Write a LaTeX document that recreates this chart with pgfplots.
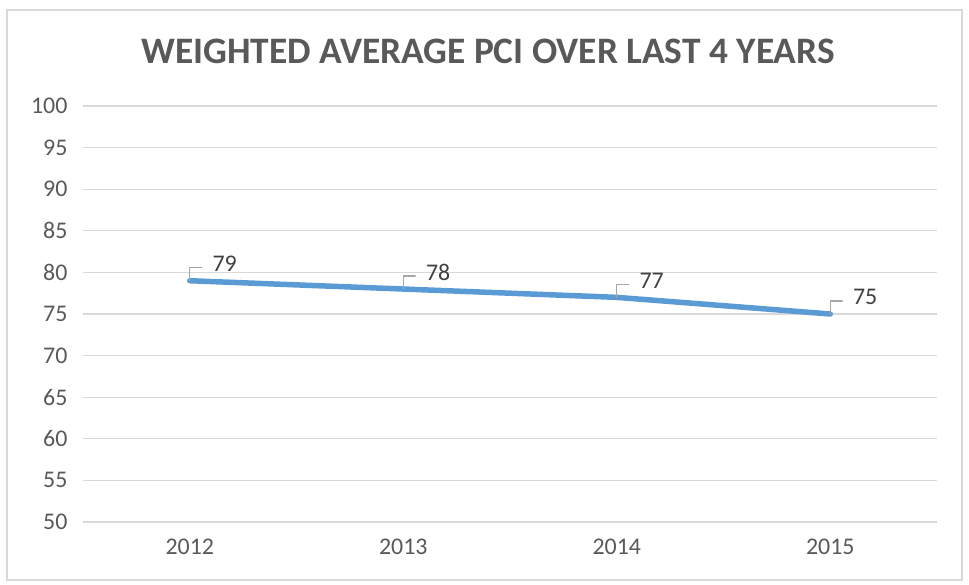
\documentclass[border=0pt]{standalone}
\usepackage{pgfplots}
\pgfplotsset{compat=1.18}
\usepackage{fontspec}
\setmainfont{Carlito}
\definecolor{titlegray}{HTML}{595959}
\definecolor{labgray}{HTML}{404040}
\definecolor{gridgray}{HTML}{D9D9D9}
\definecolor{lineblue}{HTML}{5B9BD5}
\definecolor{leadergray}{HTML}{A6A6A6}
\begin{document}
\begin{tikzpicture}
\path[use as bounding box] (0bp,0bp) rectangle (969bp,585bp);
\draw[gridgray, line width=1.2bp] (7bp,5bp) rectangle (962bp,575bp);
\node[text=titlegray, font=\fontsize{37.5}{40}\selectfont\bfseries] at (488bp,534bp) {WEIGHTED AVERAGE PCI OVER LAST 4 YEARS};
\begin{axis}[at={(83bp,63bp)}, anchor=south west, scale only axis,
  width=854bp, height=416bp,
  xmin=-0.5, xmax=3.5, ymin=50, ymax=100,
  ytick={50,55,...,100}, xtick={0,1,2,3}, xticklabels={2012,2013,2014,2015},
  ymajorgrids, grid style={gridgray, line width=1.2bp},
  axis line style={draw=none}, tick style={draw=none},
  ticklabel style={font=\fontsize{24}{26}\selectfont, text=titlegray},
  /pgf/number format/assume math mode=true,
  yticklabel style={xshift=-12bp},
  xticklabel style={yshift=-13bp},
  clip=false]
\addplot[lineblue, line width=5.5bp, line cap=round, line join=round, mark=none,
  point meta=y,
  nodes near coords,
  every node near coord/.style={font=\fontsize{24}{26}\selectfont, text=labgray,
     anchor=west, inner sep=0pt, xshift=20bp, yshift=17bp,
     append after command={\pgfextra{\draw[leadergray, line width=1.2bp]
        ([xshift=-20bp,yshift=-17bp]\tikzlastnode.west) -- ++(0bp,13bp) -- ++(12bp,0bp);}}}
  ] coordinates {(0,79) (1,78) (2,77) (3,75)};
\end{axis}
\end{tikzpicture}
\end{document}
